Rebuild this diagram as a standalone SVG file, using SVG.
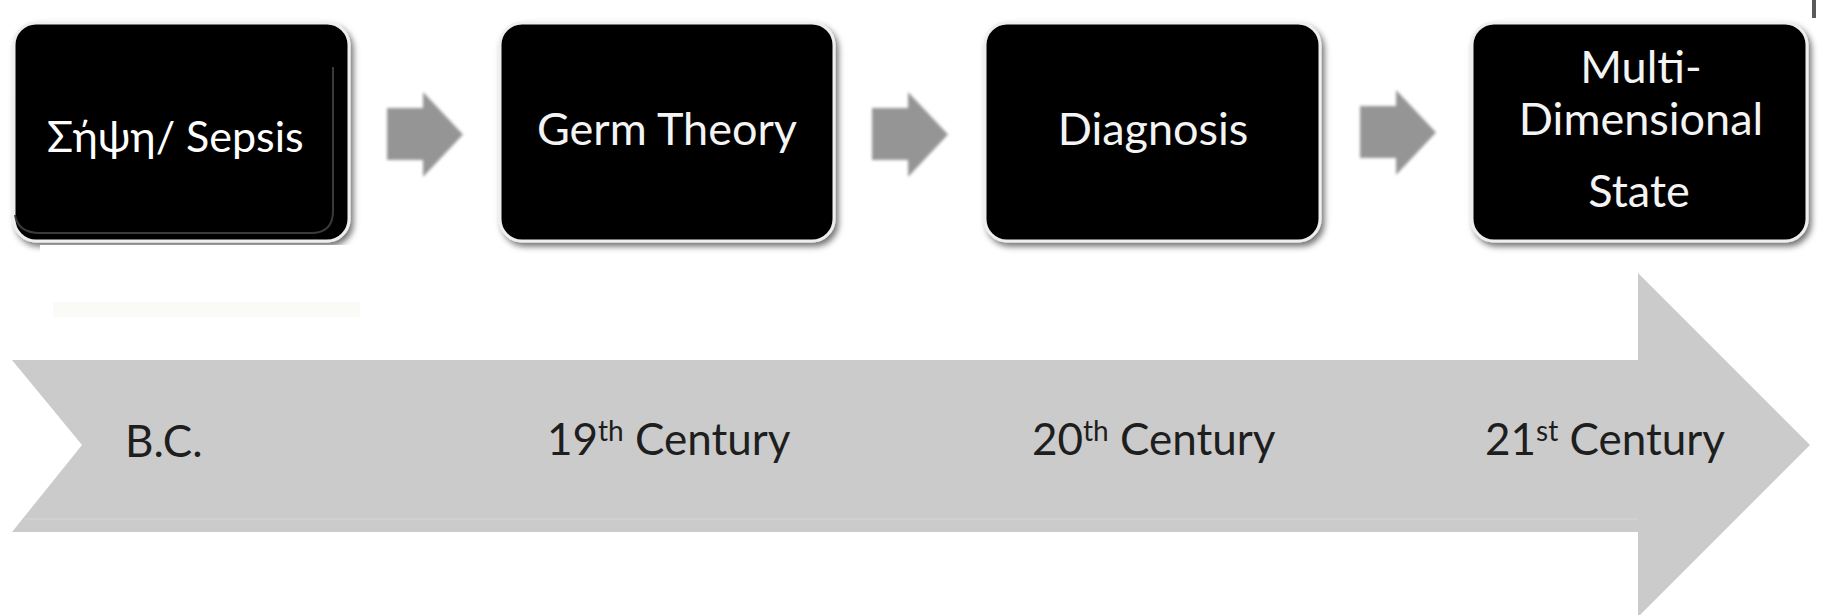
<svg xmlns="http://www.w3.org/2000/svg" width="1822" height="615" viewBox="0 0 1822 615">
  <defs>
    <filter id="boxShadow" x="-10%" y="-10%" width="125%" height="130%">
      <feDropShadow dx="3" dy="4" stdDeviation="3" flood-color="#000" flood-opacity="0.55"/>
    </filter>
    <filter id="soft" x="-20%" y="-20%" width="140%" height="140%">
      <feGaussianBlur stdDeviation="1.8"/>
    </filter>
    <path id="stepArrow" d="M0 16 H36 V0 L76 42.5 L36 85 V68 H0 Z"/>
  </defs>
  <style>
    .box { fill: #000; stroke: #eeeeee; stroke-width: 3; filter: url(#boxShadow); }
    .boxText { fill: #f4f4f4; font-family: Lato, "Noto Sans", sans-serif; font-size: 45px; text-anchor: middle; }
    .step { fill: #959595; filter: url(#soft); }
    .era { fill: #1e1e1e; font-family: Lato, "Noto Sans", sans-serif; font-size: 44px; }
    .sup { font-size: 28px; }
  </style>

  <rect width="1822" height="615" fill="#ffffff"/>

  <!-- timeline band -->
  <g id="timeline">
    <path d="M12 360 H1638 V273 L1810 445 L1638 617 V532 H12 L82 445 Z" fill="#cbcbcb"/>
    <line x1="25" y1="519" x2="1638" y2="519" stroke="#d0d0d0" stroke-width="2"/>
    <text class="era" x="125" y="457">B.C.</text>
    <text class="era" x="547" y="455">19<tspan class="sup" dy="-14">th</tspan><tspan dy="14"> Century</tspan></text>
    <text class="era" x="1032" y="455">20<tspan class="sup" dy="-14">th</tspan><tspan dy="14"> Century</tspan></text>
    <text class="era" x="1485" y="455">21<tspan class="sup" dy="-14">st</tspan><tspan dy="14"> Century</tspan></text>
  </g>

  <!-- step connectors -->
  <g id="connectors">
    <use href="#stepArrow" class="step" x="387" y="92"/>
    <use href="#stepArrow" class="step" x="872" y="92"/>
    <use href="#stepArrow" class="step" x="1360" y="90"/>
  </g>

  <g id="node-sepsis">
    <rect class="box" x="14" y="23" width="335" height="218" rx="22"/>
    <path d="M333 67 V211 Q333 233 311 233 H40 Q18 233 15 215" fill="none" stroke="#3a3a3a" stroke-width="2"/>
    <rect x="40" y="245" width="325" height="55" fill="#ffffff"/>
    <rect x="53" y="302" width="307" height="15" fill="#fafaf6"/>
    <text x="47" y="152" fill="#ffffff" font-family="Lato, 'Noto Sans', sans-serif" font-size="43">Σήψη/ Sepsis</text>
  </g>

  <g id="node-germ">
    <rect class="box" x="500" y="23" width="334" height="218" rx="22"/>
    <text class="boxText" x="667" y="145">Germ Theory</text>
  </g>

  <g id="node-diagnosis">
    <rect class="box" x="985" y="23" width="335" height="218" rx="22"/>
    <text class="boxText" x="1153" y="145">Diagnosis</text>
  </g>

  <g id="node-multi">
    <rect class="box" x="1472" y="23" width="335" height="218" rx="22"/>
    <text class="boxText" x="1641" y="83">Multi-</text>
    <text class="boxText" x="1641" y="135">Dimensional</text>
    <text class="boxText" x="1639" y="207">State</text>
  </g>

  <!-- edge sliver at the upper right -->
  <rect x="1812" y="0" width="4" height="18" fill="#5a5a5a"/>
</svg>
